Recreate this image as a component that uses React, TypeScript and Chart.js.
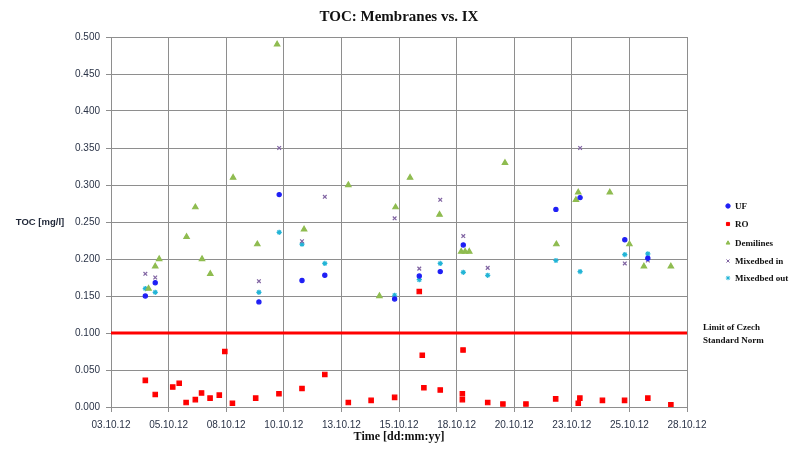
import React, { useEffect, useRef } from 'react';
import { Chart, registerables } from 'chart.js';
import { drawPoint } from 'chart.js/helpers';

Chart.register(...registerables);

// x values are days since 03.10.12
const xTickLabels = ['03.10.12', '05.10.12', '08.10.12', '10.10.12', '13.10.12', '15.10.12', '18.10.12', '20.10.12', '23.10.12', '25.10.12', '28.10.12'];

const ufDays = [1.49, 1.92, 6.42, 7.30, 8.29, 9.28, 12.31, 13.38, 14.29, 15.29, 19.31, 20.36, 22.30, 23.30];
const ufToc = [0.150, 0.168, 0.142, 0.287, 0.171, 0.178, 0.146, 0.177, 0.183, 0.219, 0.267, 0.283, 0.226, 0.201];

const roDays = [1.49, 1.92, 2.68, 2.96, 3.26, 3.66, 3.93, 4.30, 4.70, 4.94, 5.27, 6.28, 7.29, 8.29, 9.28, 10.30, 11.29, 12.31, 13.38, 13.51, 13.58, 14.29, 15.25, 15.25, 15.28, 16.35, 17.01, 18.01, 19.30, 20.28, 20.35, 21.33, 22.29, 23.30, 24.30];
const roToc = [0.036, 0.017, 0.027, 0.032, 0.006, 0.010, 0.019, 0.012, 0.016, 0.075, 0.005, 0.012, 0.018, 0.025, 0.044, 0.006, 0.009, 0.013, 0.156, 0.070, 0.026, 0.023, 0.018, 0.010, 0.077, 0.006, 0.004, 0.004, 0.011, 0.005, 0.012, 0.009, 0.009, 0.012, 0.003];

const demiDays = [1.63, 1.92, 2.09, 3.28, 3.66, 3.95, 4.31, 5.30, 6.35, 7.21, 8.38, 10.30, 11.65, 12.35, 12.98, 14.26, 15.20, 15.37, 15.55, 17.10, 19.33, 20.18, 20.28, 21.65, 22.50, 23.13, 24.30];
const demiToc = [0.160, 0.190, 0.200, 0.230, 0.270, 0.200, 0.180, 0.310, 0.220, 0.490, 0.240, 0.300, 0.150, 0.270, 0.310, 0.260, 0.210, 0.210, 0.210, 0.330, 0.220, 0.280, 0.290, 0.290, 0.220, 0.190, 0.190];

const mbInDays = [1.49, 1.92, 6.42, 7.30, 8.29, 9.28, 12.31, 13.38, 14.29, 15.29, 16.35, 20.36, 22.30, 23.30];
const mbInToc = [0.180, 0.175, 0.170, 0.350, 0.224, 0.284, 0.255, 0.187, 0.280, 0.231, 0.188, 0.350, 0.194, 0.198];

const mbOutDays = [1.49, 1.92, 6.42, 7.30, 8.29, 9.28, 12.31, 13.38, 14.29, 15.29, 16.35, 19.31, 20.36, 22.30, 23.30];
const mbOutToc = [0.160, 0.155, 0.155, 0.236, 0.220, 0.194, 0.151, 0.172, 0.194, 0.182, 0.178, 0.198, 0.183, 0.206, 0.207];

const limitDays = [0, 25];
const limitToc = [0.1, 0.1];

const seriesNames = ['UF', 'RO', 'Demilines', 'Mixedbed in', 'Mixedbed out'];
const limitName = ['Limit of Czech', 'Standard Norm'];

const pts = (xs: number[], ys: number[]) => xs.map((x, i) => ({ x, y: ys[i] }));

const tickColor = '#2a3347';
const gridColor = '#8e8e8e';

export default function App() {
  const ref = useRef<HTMLCanvasElement | null>(null);

  useEffect(() => {
    document.body.style.margin = '0';
    const canvas = ref.current;
    if (!canvas) return;

    const styles = [
      { color: '#1f1ff5', style: 'circle', radius: 2.1 },
      { color: '#ff0000', style: 'rect', radius: 3.1 },
      { color: '#8fbc50', style: 'triangle', radius: 3.1 },
      { color: '#8064a2', style: 'crossRot', radius: 2.6 },
      { color: '#22b4d6', style: 'star', radius: 2.6 },
    ];
    const seriesData = [
      pts(ufDays, ufToc),
      pts(roDays, roToc),
      pts(demiDays, demiToc),
      pts(mbInDays, mbInToc),
      pts(mbOutDays, mbOutToc),
    ];

    const datasets: any[] = seriesData.map((d, i) => ({
      type: 'scatter',
      label: seriesNames[i],
      data: d,
      showLine: false,
      pointStyle: styles[i].style,
      pointRadius: styles[i].radius,
      pointBackgroundColor: styles[i].color,
      pointBorderColor: styles[i].color,
      pointBorderWidth: 1.2,
      order: 1,
    }));
    datasets.push({
      type: 'line',
      label: limitName.join(' '),
      data: pts(limitDays, limitToc),
      borderColor: '#ff0000',
      borderWidth: 3,
      pointRadius: 0,
      order: 2,
    });

    const decor = {
      id: 'decor',
      afterDraw(chart: any) {
        const ctx = chart.ctx;
        const area = chart.chartArea;
        ctx.save();
        ctx.fillStyle = '#111111';
        ctx.textAlign = 'center';
        ctx.textBaseline = 'middle';
        ctx.font = 'bold 15px "Liberation Serif"';
        ctx.fillText('TOC: Membranes vs. IX', (area.left + area.right) / 2, 17);
        ctx.font = 'bold 12px "Liberation Serif"';
        ctx.fillText('Time [dd:mm:yy]', (area.left + area.right) / 2, 437);
        ctx.fillStyle = '#1e2536';
        ctx.font = 'bold 9.5px "Liberation Sans"';
        ctx.fillText('TOC [mg/l]', 40, 222);

        // legend
        ctx.textAlign = 'left';
        ctx.font = 'bold 9px "Liberation Serif"';
        const rowsY = [206, 224, 243, 261, 278];
        for (let i = 0; i < seriesNames.length; i++) {
          ctx.fillStyle = styles[i].color;
          ctx.strokeStyle = styles[i].color;
          ctx.lineWidth = 1;
          drawPoint(ctx, { pointStyle: styles[i].style as any, radius: 2.2, borderWidth: 1, rotation: 0 }, 728, rowsY[i]);
          ctx.fillStyle = '#111111';
          ctx.fillText(seriesNames[i], 735, rowsY[i] + 1);
        }
        const yLim = chart.scales.y.getPixelForValue(limitToc[1]);
        ctx.fillText(limitName[0], 703, yLim - 5);
        ctx.fillText(limitName[1], 703, yLim + 8);
        ctx.restore();
      },
    };

    const chart = new Chart(canvas, {
      type: 'scatter',
      data: { datasets },
      options: {
        animation: false,
        responsive: false,
        layout: { padding: { top: 37, right: 111, bottom: 0, left: 0 } },
        plugins: { legend: { display: false }, title: { display: false }, tooltip: { enabled: false } },
        scales: {
          x: {
            type: 'linear',
            min: 0,
            max: 25,
            afterFit: (s: any) => { s.height = 51; },
            ticks: {
              stepSize: 2.5,
              autoSkip: false,
              maxRotation: 0,
              padding: 7,
              color: tickColor,
              font: { family: '"Liberation Sans"', size: 10 },
              callback: (_v: any, i: number) => xTickLabels[i],
            },
            grid: { color: gridColor, tickLength: 5, lineWidth: 1 },
            border: { color: gridColor },
          },
          y: {
            type: 'linear',
            min: 0,
            max: 0.5,
            afterFit: (s: any) => { s.width = 111; },
            ticks: {
              stepSize: 0.05,
              padding: 6,
              color: tickColor,
              font: { family: '"Liberation Sans"', size: 10 },
              callback: (v: any) => Number(v).toFixed(3),
            },
            grid: { color: gridColor, tickLength: 5, lineWidth: 1 },
            border: { color: gridColor },
          },
        },
      },
      plugins: [decor],
    });

    return () => chart.destroy();
  }, []);

  return <canvas ref={ref} width={798} height={458} style={{ display: 'block', width: 798, height: 458 }} />;
}
